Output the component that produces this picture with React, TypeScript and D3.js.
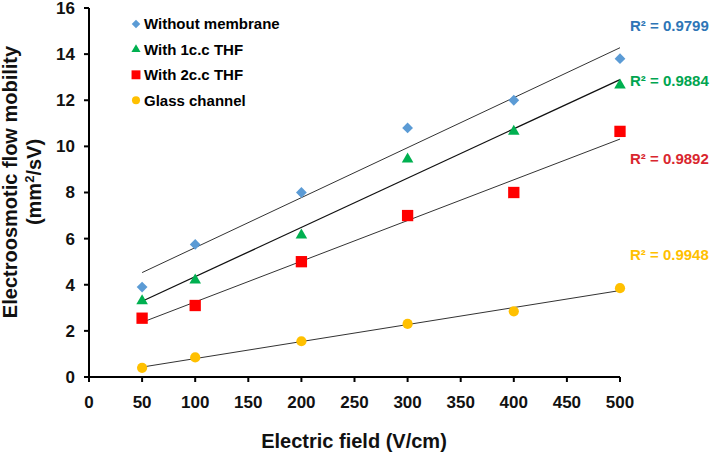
import React from "react";
import * as d3 from "d3";

const fieldValues = [50, 100, 200, 300, 400, 500];
const withoutMembrane = [3.9, 5.75, 8.0, 10.8, 12.0, 13.8];
const withTHF1 = [3.3, 4.2, 6.15, 9.45, 10.65, 12.65];
const withTHF2 = [2.55, 3.1, 5.0, 7.0, 8.0, 10.65];
const glassChannel = [0.4, 0.85, 1.55, 2.3, 2.85, 3.85];
const seriesNames = ["Without membrane", "With 1c.c THF", "With 2c.c THF", "Glass channel"];
const r2Labels = ["R² = 0.9799", "R² = 0.9884", "R² = 0.9892", "R² = 0.9948"];
const xTicks = [0, 50, 100, 150, 200, 250, 300, 350, 400, 450, 500];
const yTicks = [0, 2, 4, 6, 8, 10, 12, 14, 16];

const W = 714;
const H = 454;
const FONT = "'Liberation Sans', Arial, Helvetica, sans-serif";

const styles = [
  { color: "#5b9bd5", label: "#2e75b6", shape: "diamond", r2y: 26 },
  { color: "#00b050", label: "#00a550", shape: "triangle", r2y: 81 },
  { color: "#ff0000", label: "#d9262e", shape: "square", r2y: 159 },
  { color: "#ffc000", label: "#ffc000", shape: "circle", r2y: 255 },
];

function markerPath(shape: string, big: boolean): { d: string; rot: number } {
  const k = big ? 1 : 0.62;
  if (shape === "diamond") return { d: d3.symbol(d3.symbolSquare, 58 * k)() as string, rot: 45 };
  if (shape === "triangle") return { d: d3.symbol(d3.symbolTriangle, 58 * k)() as string, rot: 0 };
  if (shape === "square") return { d: d3.symbol(d3.symbolSquare, 128 * k)() as string, rot: 0 };
  return { d: d3.symbol(d3.symbolCircle, 82 * k)() as string, rot: 0 };
}

function regression(xs: number[], ys: number[]) {
  const mx = d3.mean(xs) as number;
  const my = d3.mean(ys) as number;
  const sxy = d3.sum(xs, (x, i) => (x - mx) * (ys[i] - my));
  const sxx = d3.sum(xs, (x) => (x - mx) * (x - mx));
  const slope = sxy / sxx;
  return { slope, intercept: my - slope * mx };
}

export default function App() {
  const x = d3.scaleLinear().domain([0, 500]).range([89, 620]);
  const y = d3.scaleLinear().domain([0, 16]).range([377, 8]);
  const allSeries = [withoutMembrane, withTHF1, withTHF2, glassChannel];
  const xMin = d3.min(fieldValues) as number;
  const xMax = d3.max(fieldValues) as number;

  return (
    <svg
      width={W}
      height={H}
      style={{ position: "absolute", left: 0, top: 0, background: "#fff" }}
      fontFamily={FONT}
    >
      <rect width={W} height={H} fill="#fff" />
      {/* trendlines */}
      {allSeries.map((ys, i) => {
        const { slope, intercept } = regression(fieldValues, ys);
        return (
          <line
            key={"t" + i}
            x1={x(xMin)}
            y1={y(intercept + slope * xMin)}
            x2={x(xMax)}
            y2={y(intercept + slope * xMax)}
            stroke={i === 1 ? "#111" : "#333"}
            strokeWidth={i === 1 ? 1.3 : 1}
          />
        );
      })}
      {/* markers */}
      {allSeries.map((ys, i) => {
        const m = markerPath(styles[i].shape, true);
        return ys.map((v, j) => (
          <path
            key={"m" + i + "-" + j}
            d={m.d}
            fill={styles[i].color}
            transform={`translate(${x(fieldValues[j])},${y(v)}) rotate(${m.rot})`}
          />
        ));
      })}
      {/* axes */}
      <line x1={x(0)} y1={y(16)} x2={x(0)} y2={y(0)} stroke="#000" strokeWidth={2} />
      <line x1={x(0)} y1={y(0)} x2={x(500)} y2={y(0)} stroke="#000" strokeWidth={2} />
      {yTicks.map((t) => (
        <g key={"yt" + t}>
          <line x1={x(0) - 5} x2={x(0)} y1={y(t)} y2={y(t)} stroke="#000" strokeWidth={2} />
          <text
            x={x(0) - 14}
            y={y(t)}
            dy="0.35em"
            textAnchor="end"
            fontSize={17}
            fontWeight="bold"
            fill="#111"
          >
            {t}
          </text>
        </g>
      ))}
      {xTicks.map((t) => (
        <g key={"xt" + t}>
          <line x1={x(t)} x2={x(t)} y1={y(0)} y2={y(0) + 5} stroke="#000" strokeWidth={2} />
          <text x={x(t)} y={408} textAnchor="middle" fontSize={17} fontWeight="bold" fill="#111">
            {t}
          </text>
        </g>
      ))}
      {/* axis titles */}
      <text x={354} y={448} textAnchor="middle" fontSize={20} fontWeight="bold" fill="#111">
        Electric field (V/cm)
      </text>
      <g transform="translate(17,182) rotate(-90)">
        <text x={0} y={0} textAnchor="middle" fontSize={20} fontWeight="bold" fill="#111">
          Electroosmotic flow mobility
        </text>
        <text x={0} y={24} textAnchor="middle" fontSize={20} fontWeight="bold" fill="#111">
          (mm<tspan baselineShift="super" fontSize={13}>2</tspan>/sV)
        </text>
      </g>
      {/* legend */}
      {seriesNames.map((name, i) => {
        const m = markerPath(styles[i].shape, false);
        const ly = 24 + i * 25.4;
        return (
          <g key={"lg" + i}>
            <path d={m.d} fill={styles[i].color} transform={`translate(136,${ly}) rotate(${m.rot})`} />
            <text x={144} y={ly} dy="0.36em" fontSize={15} fontWeight="bold" fill="#000">
              {name}
            </text>
          </g>
        );
      })}
      {/* R² labels */}
      {r2Labels.map((lab, i) => (
        <text
          key={"r2" + i}
          x={630}
          y={styles[i].r2y}
          dy="0.36em"
          fontSize={15}
          fontWeight="bold"
          fill={styles[i].label}
        >
          {lab}
        </text>
      ))}
    </svg>
  );
}
